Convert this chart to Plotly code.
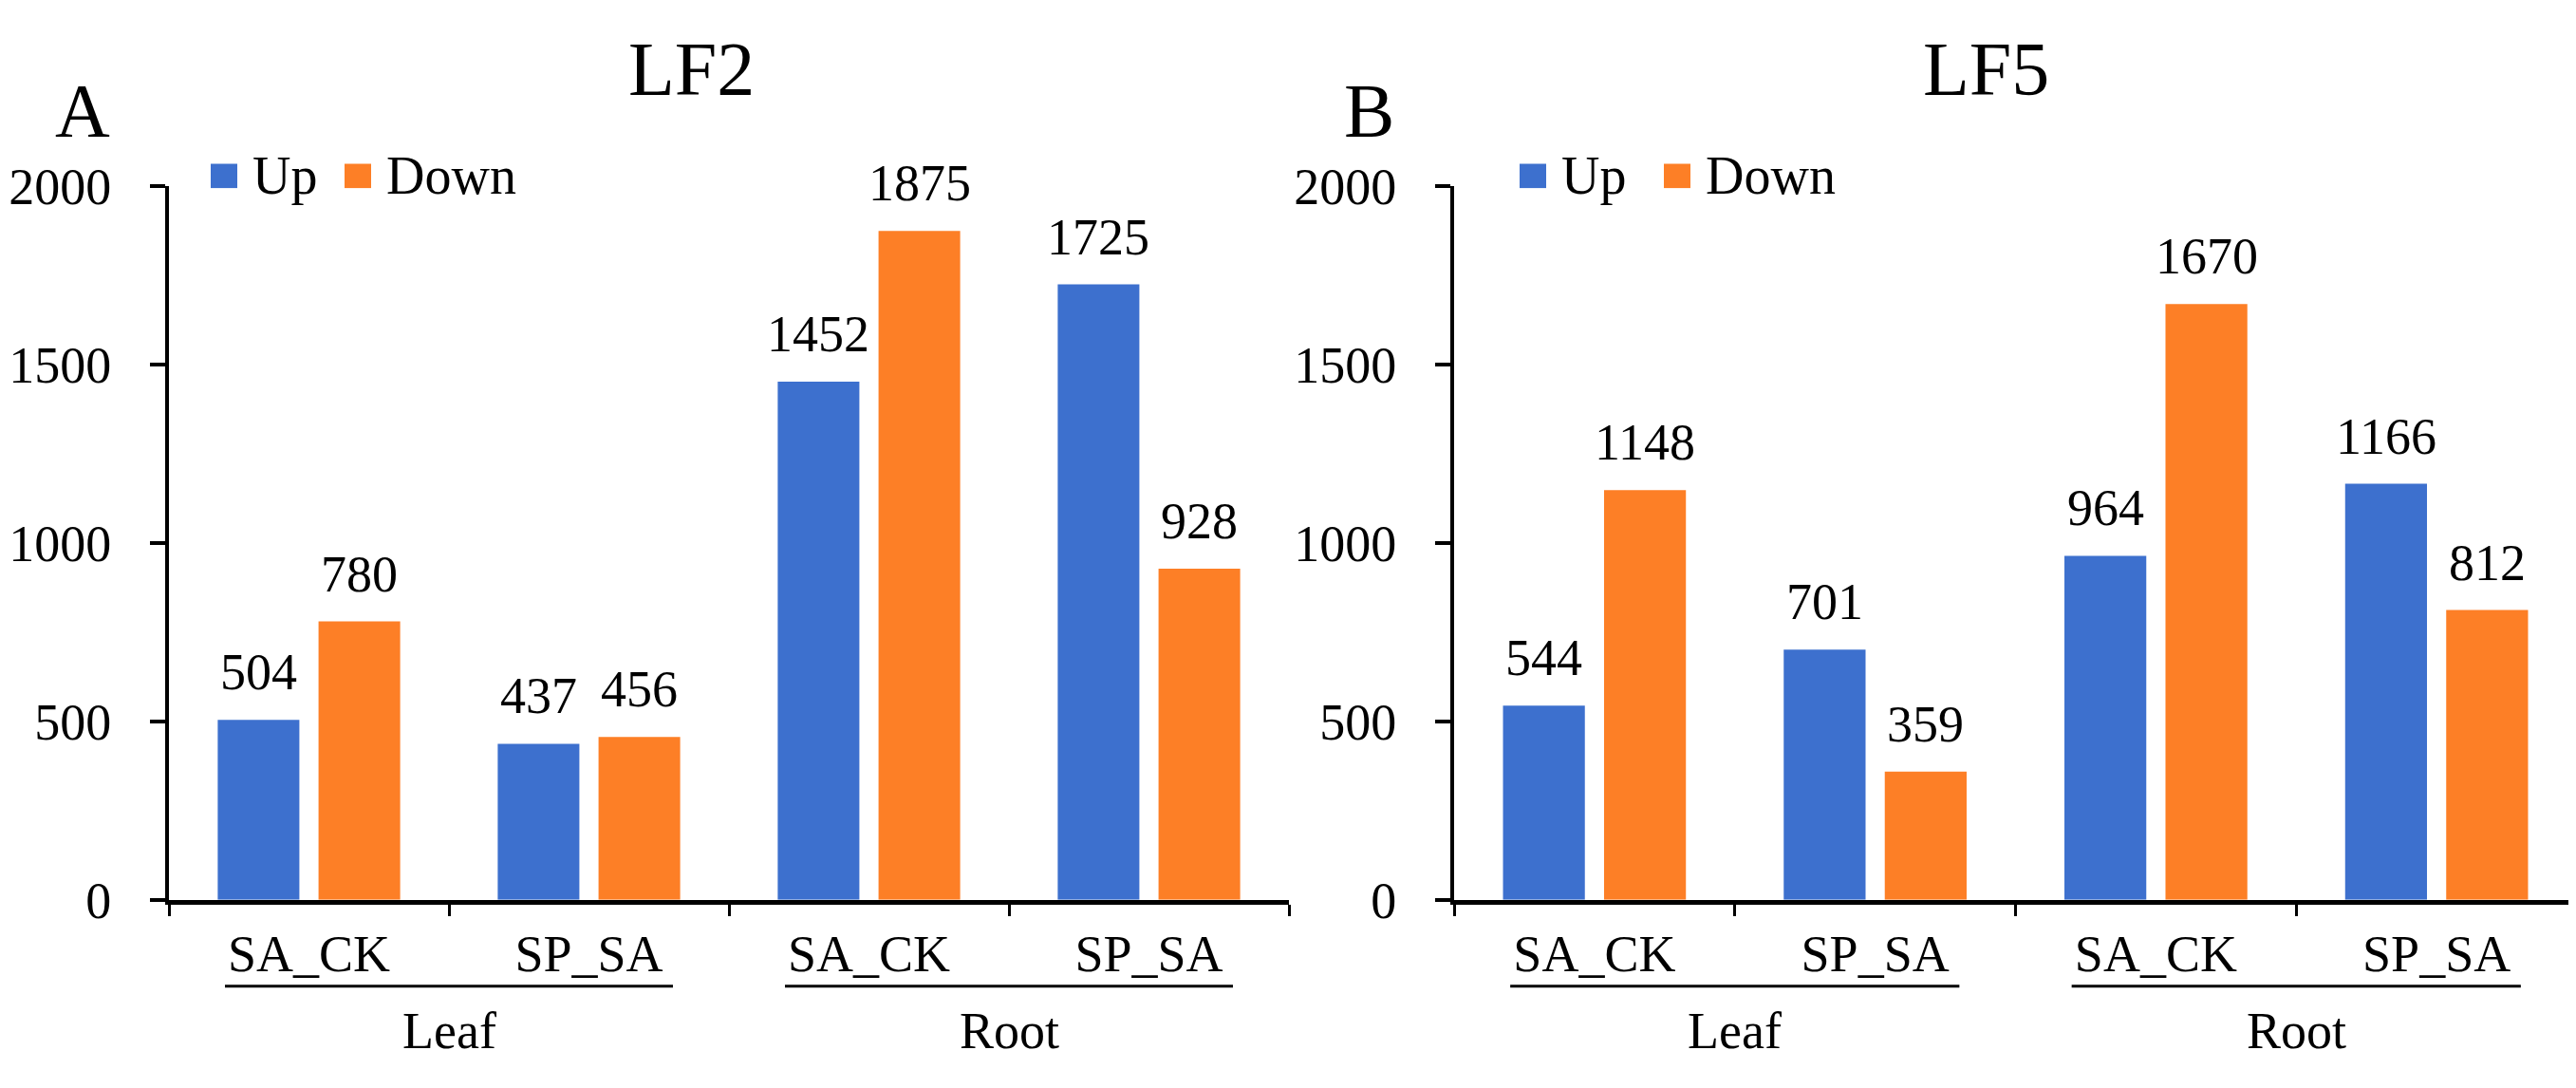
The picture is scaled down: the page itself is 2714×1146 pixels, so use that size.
import plotly.graph_objects as go

# data
groups = ["Leaf", "Leaf", "Root", "Root"]
comparisons = ["SA_CK", "SP_SA", "SA_CK", "SP_SA"]
lf2_up = [504, 437, 1452, 1725]
lf2_down = [780, 456, 1875, 928]
lf5_up = [544, 701, 964, 1166]
lf5_down = [1148, 359, 1670, 812]
series_names = ["Up", "Down"]
panel_titles = ["LF2", "LF5"]
panel_letters = ["A", "B"]
yticks = [0, 500, 1000, 1500, 2000]

W, H = 2714, 1146
FONT = "Liberation Serif"
BLUE = "#3D70CE"
ORANGE = "#FD7F26"
BARGAP = 0.28
BARGROUPGAP = 0.19


def px(x):
    return x / W


def py(y):
    return 1 - y / H


keys = [g + " " + c for g, c in zip(groups, comparisons)]

fig = go.Figure()

panels = [
    dict(up=lf2_up, down=lf2_down, xa="x", ya="y", left=170, right=1350,
         title_x=720, letter_x=79, leg=[214, 355]),
    dict(up=lf5_up, down=lf5_down, xa="x2", ya="y2", left=1524, right=2707,
         title_x=2084, letter_x=1434, leg=[1593, 1745]),
]

half = (1 - BARGAP) / 4  # bar centre offset from category centre

for k, p in enumerate(panels):
    for vals, name, col, sign in [(p["up"], series_names[0], BLUE, -1),
                                  (p["down"], series_names[1], ORANGE, 1)]:
        fig.add_trace(go.Bar(x=keys, y=vals, name=name, marker_color=col,
                             marker_line_width=0, xaxis=p["xa"], yaxis=p["ya"],
                             showlegend=False))
        for i, v in enumerate(vals):
            fig.add_annotation(x=i + sign * half, y=v, xref=p["xa"], yref=p["ya"],
                               text=str(v), showarrow=False, xanchor="center",
                               yanchor="bottom", yshift=18,
                               font=dict(family=FONT, size=54, color="black"))

    # group underlines and group labels
    for start in range(0, len(groups), 2):
        fig.add_shape(type="line", xref=p["xa"], yref="paper",
                      x0=start - 0.3, x1=start + 1.3, y0=py(1057), y1=py(1057),
                      line=dict(color="black", width=3))
        fig.add_annotation(x=start + 0.5, y=py(1107), xref=p["xa"], yref="paper",
                           text=groups[start], showarrow=False, xanchor="center",
                           yanchor="middle",
                           font=dict(family=FONT, size=54, color="black"))

    # titles
    fig.add_annotation(x=px(p["title_x"]), y=py(38), xref="paper", yref="paper",
                       text=panel_titles[k], showarrow=False, xanchor="center",
                       yanchor="middle", font=dict(family=FONT, size=80, color="black"))
    fig.add_annotation(x=px(p["letter_x"]), y=py(84), xref="paper", yref="paper",
                       text=panel_letters[k], showarrow=False, xanchor="center",
                       yanchor="middle", font=dict(family=FONT, size=80, color="black"))

    # legend drawn by hand (plotly caps legend symbol size)
    for j, (name, col) in enumerate(zip(series_names, [BLUE, ORANGE])):
        x0 = p["leg"][j]
        fig.add_shape(type="rect", xref="paper", yref="paper",
                      x0=px(x0), x1=px(x0 + 28), y0=py(170), y1=py(143),
                      fillcolor=col, line_width=0)
        fig.add_annotation(x=px(x0 + 42), y=py(156), xref="paper", yref="paper",
                           text=name, showarrow=False, xanchor="left", yanchor="middle",
                           font=dict(family=FONT, size=56, color="black"))

xaxis_style = dict(type="category", tickmode="array", tickvals=keys, ticktext=comparisons,
                   tickson="boundaries", ticks="outside", ticklen=12, tickwidth=3,
                   tickcolor="black", showline=True, linecolor="black", linewidth=5,
                   showgrid=False, zeroline=False, ticklabelstandoff=6,
                   tickfont=dict(family=FONT, size=54, color="black"))
yaxis_style = dict(range=[0, 2000], tickvals=yticks, ticks="outside", ticklen=16,
                   tickwidth=4, tickcolor="black", showline=True, linecolor="black",
                   linewidth=4, showgrid=False, zeroline=False, ticklabelstandoff=30,
                   tickfont=dict(family=FONT, size=54, color="black"))

fig.update_layout(
    width=W, height=H,
    margin=dict(l=0, r=0, t=0, b=0),
    paper_bgcolor="white", plot_bgcolor="white",
    barmode="group", bargap=BARGAP, bargroupgap=BARGROUPGAP,
    xaxis=dict(domain=[px(170), px(1350)], anchor="y", **xaxis_style),
    yaxis=dict(domain=[py(961), py(168)], anchor="x", **yaxis_style),
    xaxis2=dict(domain=[px(1524), px(2707)], anchor="y2", **xaxis_style),
    yaxis2=dict(domain=[py(961), py(168)], anchor="x2", **yaxis_style),
)

fig.write_html("out.html")
